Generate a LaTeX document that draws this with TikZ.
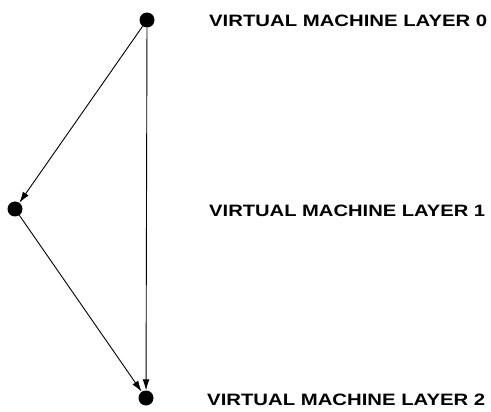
\documentclass[tikz,border=0pt]{standalone}
\usepackage{fontspec}
\setmainfont{Liberation Sans}
\usetikzlibrary{arrows.meta}
\begin{document}
\begin{tikzpicture}[x=1pt,y=-1pt,
  dot/.style={circle,fill=black,inner sep=0pt,minimum size=15pt},
  lbl/.style={anchor=west,inner sep=0pt,font=\bfseries\fontsize{13}{13}\selectfont},
  conn/.style={line width=0.9pt,-{Latex[length=11pt,width=7pt]},shorten >=0pt}]
\useasboundingbox (0,0) rectangle (491,412);
\node[dot] (a) at (147,20) {};
\node[dot] (b) at (15,209) {};
\node[dot] (c) at (146,398) {};
\node[lbl] (la) at (209,20.5) {\resizebox{278pt}{11.5pt}{VIRTUAL MACHINE LAYER 0}};
\node[lbl] (lb) at (209,210.5) {\resizebox{276pt}{11.5pt}{VIRTUAL MACHINE LAYER 1}};
\node[lbl] (lc) at (207,399.5) {\resizebox{278pt}{11.5pt}{VIRTUAL MACHINE LAYER 2}};
\draw[conn] (a) -- (b);
\draw[conn] (a) -- (c);
\draw[conn] (b) -- (c);
\end{tikzpicture}
\end{document}
